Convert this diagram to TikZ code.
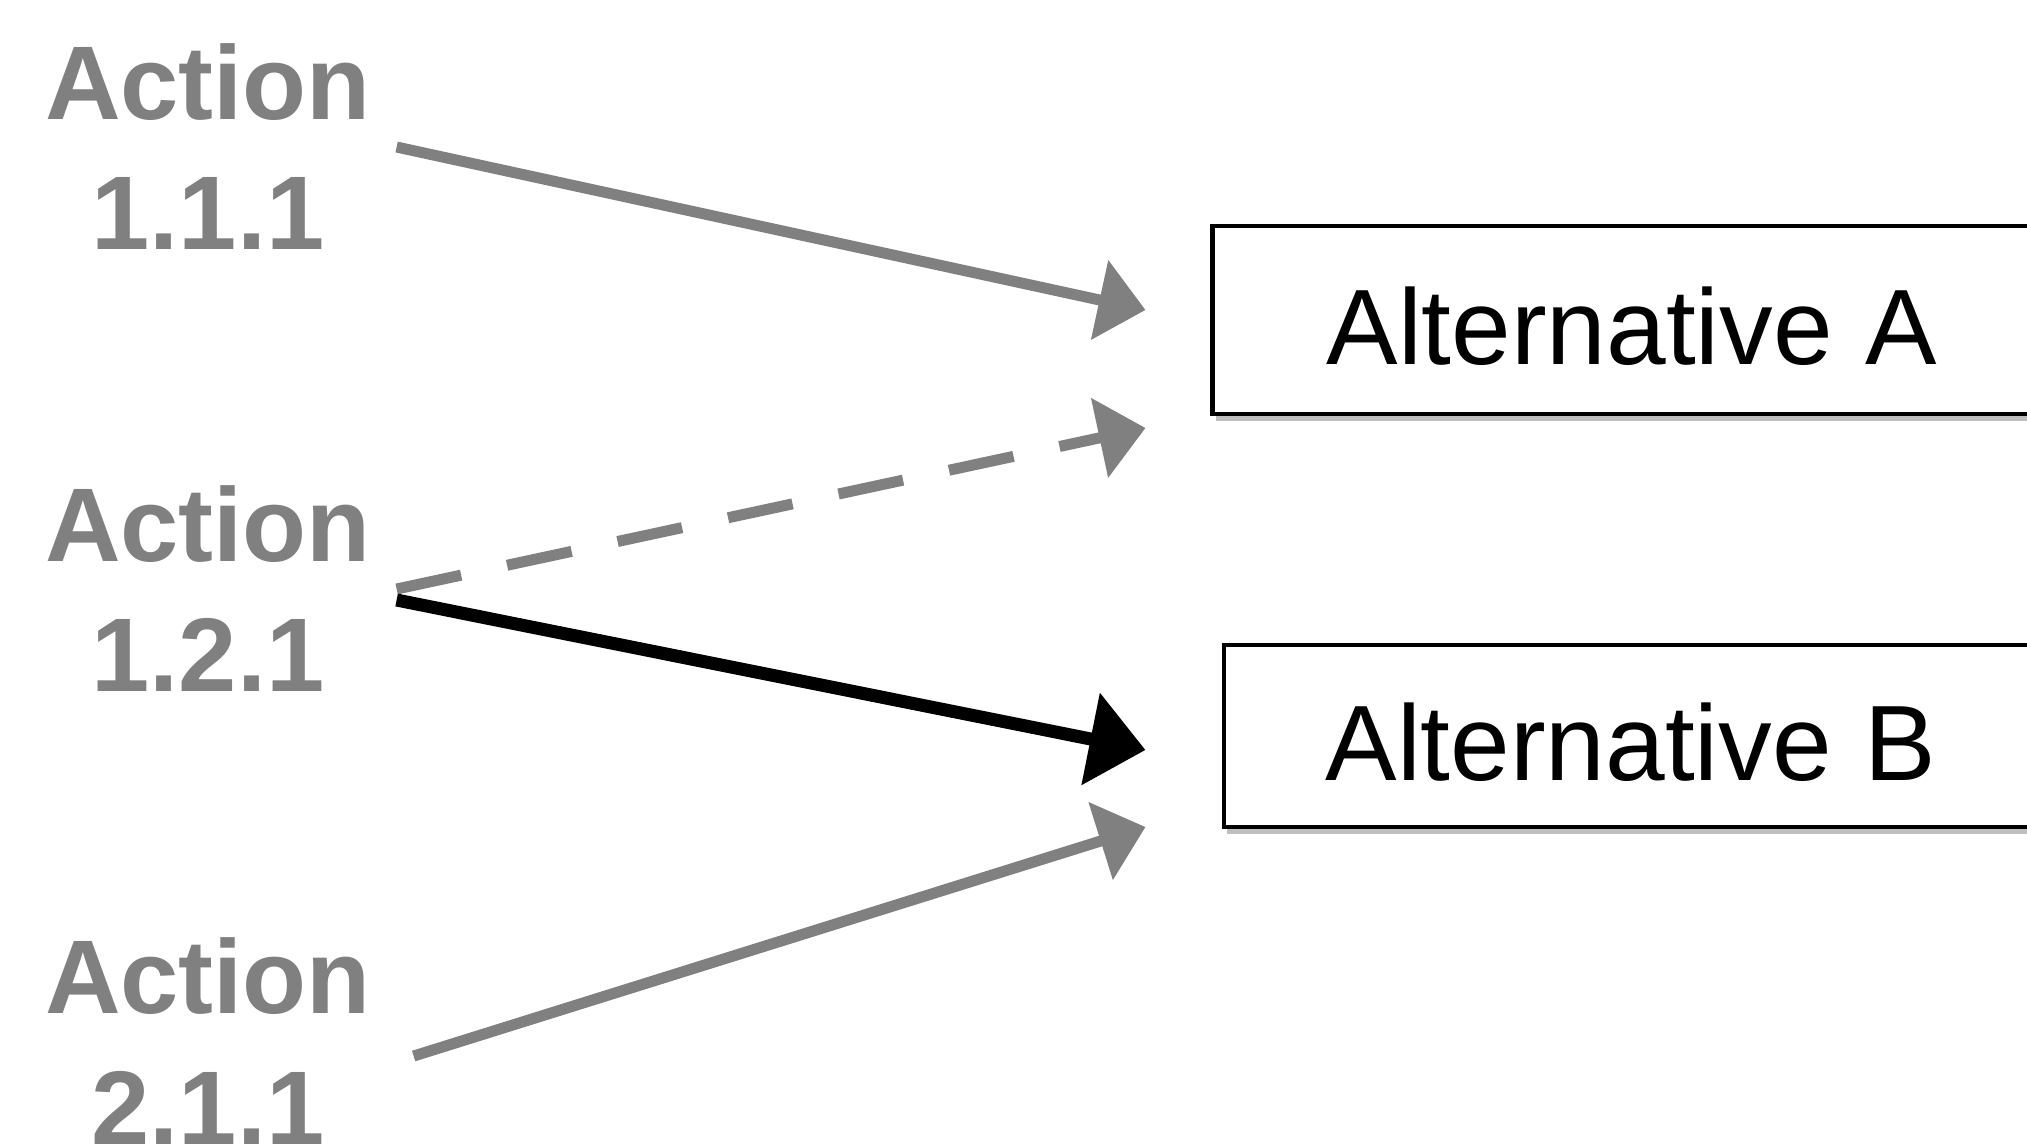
\documentclass[tikz,border=0pt]{standalone}
\usepackage{fontspec}
\setmainfont{Liberation Sans}
\usetikzlibrary{arrows.meta,shadows}
\definecolor{actgrey}{RGB}{128,128,128}

\begin{document}
\begin{tikzpicture}[>={Triangle[length=0.47cm,width=0.79cm]},
	act/.style={text=actgrey, font=\fontsize{29.8}{37}\selectfont\bfseries, align=center, inner xsep=0.25cm, anchor=base},
	alt/.style={draw, line width=1.4pt, fill=white, inner sep=0pt, text height=0.9cm, text depth=0cm, font=\fontsize{30.5}{36}\selectfont, drop shadow={shadow xshift=0.03cm, shadow yshift=-0.07cm, opacity=0.5}},
	link/.style={->, actgrey, line width=0.11cm}]
		\useasboundingbox (0,0) rectangle (20.27,11.46);

		\node (act111) [act] at (2.08,8.96) {Action\\1.1.1};
		\node (act121) [act] at (2.08,4.54) {Action\\1.2.1};
		\node (act211) [act] at (2.08,0.02) {Action\\2.1.1};

		\node (altA) [alt, minimum width=8.39cm, minimum height=1.88cm] at (16.32,8.26) {Alternative\hspace{0.33cm}A};
		\node (altB) [alt, minimum width=8.14cm, minimum height=1.82cm] at (16.31,4.10) {Alternative\hspace{0.33cm}B};

		\coordinate (inA1) at (11.455,8.36);
		\coordinate (inA2) at (11.455,7.18);
		\coordinate (inB1) at (11.455,3.96);
		\coordinate (inB2) at (11.455,3.19);

		\draw [link] (act111.east)--(inA1);
		\draw [link, dash pattern=on 0.66cm off 0.47cm] (act121.east)--(inA2);
		\draw [->, line width=0.13cm, -{Triangle[length=0.56cm,width=0.91cm]}] ([yshift=-0.11cm]act121.east)--(inB1);
		\draw [link] ([shift={(0.17,-0.15)}]act211.east)--(inB2);
	\end{tikzpicture}
\end{document}
